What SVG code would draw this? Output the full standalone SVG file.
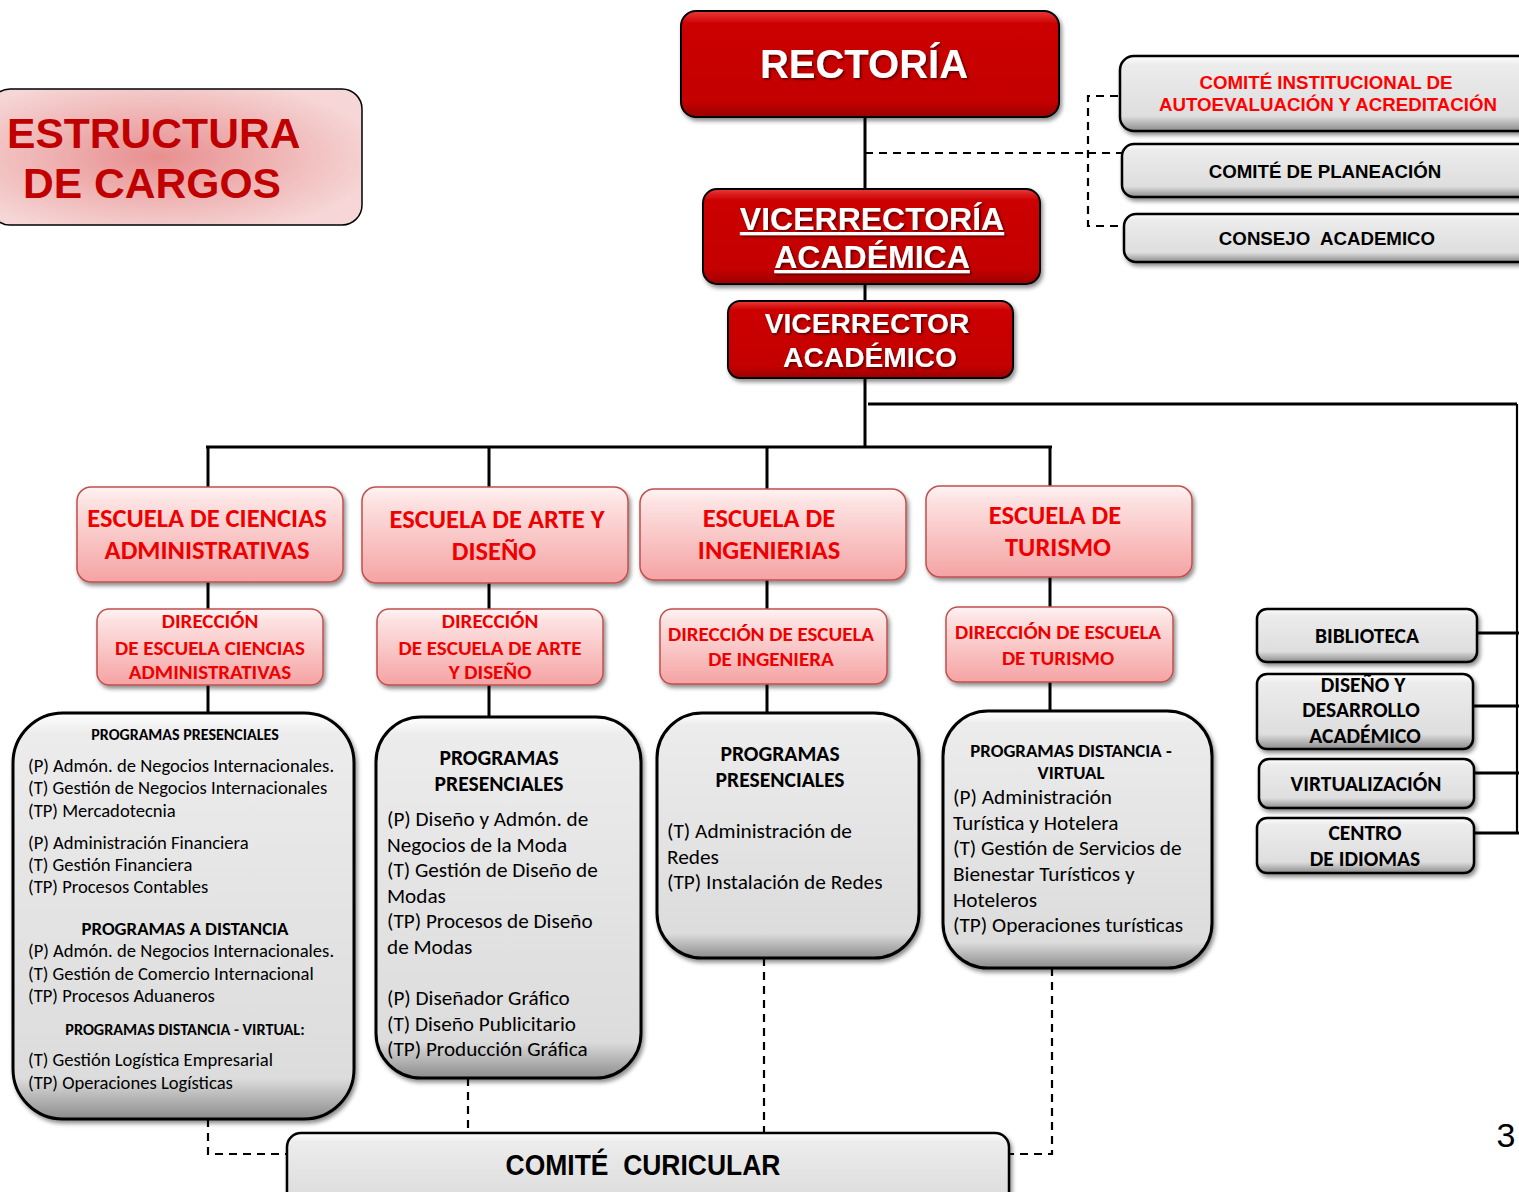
<svg xmlns="http://www.w3.org/2000/svg" width="1519" height="1192" viewBox="0 0 1519 1192">
<defs>
<linearGradient id="gRed" x1="0" y1="0" x2="0" y2="1">
<stop offset="0" stop-color="#e83a3a"/><stop offset="0.12" stop-color="#cc0000"/><stop offset="0.85" stop-color="#c40000"/><stop offset="1" stop-color="#9a0000"/>
</linearGradient>
<linearGradient id="gPink" x1="0" y1="0" x2="0" y2="1">
<stop offset="0" stop-color="#fff4f4"/><stop offset="0.15" stop-color="#fde2e2"/><stop offset="1" stop-color="#f5a3a3"/>
</linearGradient>
<linearGradient id="gGray" x1="0" y1="0" x2="0" y2="1">
<stop offset="0" stop-color="#ffffff"/><stop offset="0.12" stop-color="#ececec"/><stop offset="0.8" stop-color="#dedede"/><stop offset="1" stop-color="#8c8c8c"/>
</linearGradient>
<linearGradient id="gGrayTall" x1="0" y1="0" x2="0" y2="1">
<stop offset="0" stop-color="#ffffff"/><stop offset="0.05" stop-color="#ececec"/><stop offset="0.9" stop-color="#dcdcdc"/><stop offset="1" stop-color="#8c8c8c"/>
</linearGradient>
<radialGradient id="gTitle" cx="0.45" cy="0.5" r="0.6">
<stop offset="0" stop-color="#e88f8f"/><stop offset="1" stop-color="#f6d6d6"/>
</radialGradient>
<filter id="sh" x="-10%" y="-10%" width="125%" height="130%">
<feDropShadow dx="2" dy="3" stdDeviation="2" flood-color="#000" flood-opacity="0.45"/>
</filter>
<filter id="tsh" x="-10%" y="-20%" width="120%" height="150%">
<feDropShadow dx="1.5" dy="1.5" stdDeviation="1" flood-color="#000" flood-opacity="0.6"/>
</filter>
</defs>
<style>
.red{fill:url(#gRed);stroke:#000;stroke-width:2}
.pink{fill:url(#gPink);stroke:#c0504d;stroke-width:1.5}
.gray{fill:url(#gGray);stroke:#000;stroke-width:2.5}
.grayT{fill:url(#gGrayTall);stroke:#000;stroke-width:3}
.title{fill:url(#gTitle);stroke:#000;stroke-width:1.5}
.tw{font-family:"Liberation Sans",Arial,sans-serif;font-weight:bold;fill:#fff;text-anchor:middle}
.tr{font-family:Carlito,Lato,"Liberation Sans",sans-serif;font-weight:bold;fill:#ee0000;text-anchor:middle}
.ta{font-family:"Liberation Sans",Arial,sans-serif;font-weight:bold;text-anchor:middle}
.tb{font-family:Carlito,Lato,"Liberation Sans",sans-serif;font-weight:bold;fill:#000;text-anchor:middle}
.tn{font-family:Carlito,Lato,"Liberation Sans",sans-serif;fill:#000}
.solid{fill:none;stroke:#000;stroke-width:3}
.dash{fill:none;stroke:#000;stroke-width:2.2;stroke-dasharray:8 6}
</style>
<rect width="1519" height="1192" fill="#fff"/>

<g id="connectors">
<path class="solid" d="M865 117V447"/>
<path class="solid" d="M206 447H1052M208 447V487M489 447V487M767 447V489M1050 447V486"/>
<path class="solid" d="M208 582V609M489 583V609M767 580V609M1050 577V607"/>
<path class="solid" d="M208 685V713M489 685V717M767 684V713M1050 682V711"/>
<path class="solid" d="M868 404H1517"/>
<path class="solid" style="stroke-width:2.2" d="M1517 404V834"/>
<path class="solid" d="M1477 633H1519M1473 706H1519M1474 773H1519M1474 833H1519"/>
<path class="dash" d="M865 153H1088M1118 96H1088V226H1124M1088 153H1122"/>
<path class="dash" d="M208 1119V1154H287M468 1078V1133M764 958V1133M1052 968V1154H1010"/>
</g>

<g id="title">
<rect class="title" x="-10" y="89" width="372" height="136" rx="20"/>
<text x="7" y="148" style="font-family:'Liberation Sans',Arial,sans-serif;font-weight:bold;font-size:42.6px;fill:#c00000">ESTRUCTURA</text>
<text x="23" y="198" style="font-family:'Liberation Sans',Arial,sans-serif;font-weight:bold;font-size:42.6px;fill:#c00000">DE CARGOS</text>
</g>

<g id="rectoria">
<rect class="red" x="681" y="11" width="378" height="106" rx="15" filter="url(#sh)"/>
<text class="tw" x="864" y="78" font-size="40" filter="url(#tsh)">RECTORÍA</text>
</g>

<g id="vicerrectoria">
<rect class="red" x="703" y="189" width="337" height="95" rx="14" filter="url(#sh)"/>
<g filter="url(#tsh)">
<text class="tw" x="872" y="230" font-size="32" text-decoration="underline">VICERRECTORÍA</text>
<text class="tw" x="872" y="268" font-size="32" text-decoration="underline"> ACADÉMICA</text>
</g>
</g>

<g id="vicerrector">
<rect class="red" x="728" y="301" width="285" height="77" rx="12" filter="url(#sh)"/>
<g filter="url(#tsh)">
<text class="tw" x="867" y="333" font-size="28.2">VICERRECTOR</text>
<text class="tw" x="870" y="367" font-size="28.2">ACADÉMICO</text>
</g>
</g>

<g id="comite-autoevaluacion">
<rect class="gray" x="1120" y="56" width="420" height="75" rx="14" filter="url(#sh)"/>
<text class="ta" x="1326" y="89" font-size="18.7" fill="#ff0000">COMITÉ INSTITUCIONAL DE</text>
<text class="ta" x="1328" y="111" font-size="18.7" fill="#ff0000">AUTOEVALUACIÓN Y ACREDITACIÓN</text>
</g>
<g id="comite-planeacion">
<rect class="gray" x="1122" y="144" width="420" height="53" rx="12" filter="url(#sh)"/>
<text class="ta" x="1325" y="178" font-size="18.7" fill="#000">COMITÉ DE PLANEACIÓN</text>
</g>
<g id="consejo-academico">
<rect class="gray" x="1124" y="214" width="420" height="48" rx="12" filter="url(#sh)"/>
<text class="ta" x="1327" y="245" font-size="18.7" fill="#000" xml:space="preserve">CONSEJO  ACADEMICO</text>
</g>

<g id="escuela-ciencias">
<rect class="pink" x="77" y="487" width="266" height="95" rx="14" filter="url(#sh)"/>
<text class="tr" x="207" y="527" font-size="26.5">ESCUELA DE CIENCIAS</text>
<text class="tr" x="207" y="559" font-size="26.5">ADMINISTRATIVAS</text>
</g>
<g id="escuela-arte">
<rect class="pink" x="362" y="487" width="266" height="96" rx="14" filter="url(#sh)"/>
<text class="tr" x="497" y="528" font-size="26.5">ESCUELA DE ARTE Y</text>
<text class="tr" x="494" y="560" font-size="26.5">DISEÑO</text>
</g>
<g id="escuela-ingenierias">
<rect class="pink" x="640" y="489" width="266" height="91" rx="14" filter="url(#sh)"/>
<text class="tr" x="769" y="527" font-size="26.5">ESCUELA DE</text>
<text class="tr" x="769" y="559" font-size="26.5">INGENIERIAS</text>
</g>
<g id="escuela-turismo">
<rect class="pink" x="926" y="486" width="266" height="91" rx="14" filter="url(#sh)"/>
<text class="tr" x="1055" y="524" font-size="26.5">ESCUELA DE</text>
<text class="tr" x="1058" y="556" font-size="26.5">TURISMO</text>
</g>

<g id="direccion-ciencias">
<rect class="pink" x="97" y="609" width="226" height="76" rx="12" filter="url(#sh)"/>
<text class="tr" x="210" y="628" font-size="21">DIRECCIÓN</text>
<text class="tr" x="210" y="655" font-size="21">DE ESCUELA CIENCIAS</text>
<text class="tr" x="210" y="679" font-size="21">ADMINISTRATIVAS</text>
</g>
<g id="direccion-arte">
<rect class="pink" x="377" y="609" width="226" height="76" rx="12" filter="url(#sh)"/>
<text class="tr" x="490" y="628" font-size="21">DIRECCIÓN</text>
<text class="tr" x="490" y="655" font-size="21">DE ESCUELA DE ARTE</text>
<text class="tr" x="490" y="679" font-size="21">Y DISEÑO</text>
</g>
<g id="direccion-ingenieria">
<rect class="pink" x="660" y="609" width="227" height="75" rx="12" filter="url(#sh)"/>
<text class="tr" x="771" y="641" font-size="21">DIRECCIÓN DE ESCUELA</text>
<text class="tr" x="771" y="666" font-size="21">DE INGENIERA</text>
</g>
<g id="direccion-turismo">
<rect class="pink" x="946" y="607" width="227" height="75" rx="12" filter="url(#sh)"/>
<text class="tr" x="1058" y="639" font-size="21">DIRECCIÓN DE ESCUELA</text>
<text class="tr" x="1058" y="665" font-size="21">DE TURISMO</text>
</g>

<g id="programas-ciencias">
<rect class="grayT" x="13" y="713" width="341" height="406" rx="50" filter="url(#sh)"/>
<text class="tb" x="185" y="740" font-size="16">PROGRAMAS PRESENCIALES</text>
<g class="tn" font-size="18.6">
<text x="28" y="772">(P) Admón. de Negocios Internacionales.</text>
<text x="28" y="794">(T) Gestión de Negocios Internacionales</text>
<text x="28" y="817">(TP) Mercadotecnia</text>
<text x="28" y="849">(P) Administración Financiera</text>
<text x="28" y="871">(T) Gestión Financiera</text>
<text x="28" y="893">(TP) Procesos Contables</text>
<text x="28" y="957">(P) Admón. de Negocios Internacionales.</text>
<text x="28" y="980">(T) Gestión de Comercio Internacional</text>
<text x="28" y="1002">(TP) Procesos Aduaneros</text>
<text x="28" y="1066">(T) Gestión Logística Empresarial</text>
<text x="28" y="1089">(TP) Operaciones Logísticas</text>
</g>
<text class="tb" x="185" y="935" font-size="18.8">PROGRAMAS A DISTANCIA</text>
<text class="tb" x="185" y="1035" font-size="16.2">PROGRAMAS DISTANCIA - VIRTUAL:</text>
</g>

<g id="programas-arte">
<rect class="grayT" x="376" y="717" width="265" height="361" rx="45" filter="url(#sh)"/>
<text class="tb" x="499" y="765" font-size="21.6">PROGRAMAS</text>
<text class="tb" x="499" y="791" font-size="21.6">PRESENCIALES</text>
<g class="tn" font-size="21.2">
<text x="387" y="826">(P) Diseño y Admón. de</text>
<text x="387" y="852">Negocios de la Moda</text>
<text x="387" y="877">(T) Gestión de Diseño de</text>
<text x="387" y="903">Modas</text>
<text x="387" y="928">(TP) Procesos de Diseño</text>
<text x="387" y="954">de Modas</text>
<text x="387" y="1005">(P) Diseñador Gráfico</text>
<text x="387" y="1031">(T) Diseño Publicitario</text>
<text x="387" y="1056">(TP) Producción Gráfica</text>
</g>
</g>

<g id="programas-ingenierias">
<rect class="grayT" x="657" y="713" width="262" height="245" rx="45" filter="url(#sh)"/>
<text class="tb" x="780" y="761" font-size="21.6">PROGRAMAS</text>
<text class="tb" x="780" y="787" font-size="21.6">PRESENCIALES</text>
<g class="tn" font-size="21.3">
<text x="667" y="838">(T) Administración de</text>
<text x="667" y="864">Redes</text>
<text x="667" y="889">(TP) Instalación de Redes</text>
</g>
</g>

<g id="programas-turismo">
<rect class="grayT" x="943" y="711" width="269" height="257" rx="45" filter="url(#sh)"/>
<text class="tb" x="1071" y="757" font-size="18.8">PROGRAMAS DISTANCIA -</text>
<text class="tb" x="1071" y="779" font-size="18.8">VIRTUAL</text>
<g class="tn" font-size="21.3">
<text x="953" y="804">(P) Administración</text>
<text x="953" y="830">Turística y Hotelera</text>
<text x="953" y="855">(T) Gestión de Servicios de</text>
<text x="953" y="881">Bienestar Turísticos y</text>
<text x="953" y="907">Hoteleros</text>
<text x="953" y="932">(TP) Operaciones turísticas</text>
</g>
</g>

<g id="biblioteca">
<rect class="gray" x="1257" y="609" width="220" height="53" rx="10" filter="url(#sh)"/>
<text class="tb" x="1367" y="643" font-size="21.5">BIBLIOTECA</text>
</g>
<g id="diseno-desarrollo">
<rect class="gray" x="1257" y="674" width="216" height="75" rx="10" filter="url(#sh)"/>
<text class="tb" x="1363" y="692" font-size="21.5">DISEÑO Y</text>
<text class="tb" x="1361" y="717" font-size="21.5">DESARROLLO</text>
<text class="tb" x="1365" y="743" font-size="21.5">ACADÉMICO</text>
</g>
<g id="virtualizacion">
<rect class="gray" x="1259" y="759" width="215" height="49" rx="10" filter="url(#sh)"/>
<text class="tb" x="1366" y="791" font-size="21.5">VIRTUALIZACIÓN</text>
</g>
<g id="centro-idiomas">
<rect class="gray" x="1257" y="818" width="217" height="55" rx="10" filter="url(#sh)"/>
<text class="tb" x="1365" y="840" font-size="21.5">CENTRO</text>
<text class="tb" x="1365" y="866" font-size="21.5">DE IDIOMAS</text>
</g>

<g id="comite-curicular">
<rect class="gray" x="287" y="1133" width="722" height="75" rx="14" filter="url(#sh)"/>
<text x="643" y="1175" xml:space="preserve" style="font-family:'Liberation Sans',Arial,sans-serif;font-weight:bold;font-size:29px;text-anchor:middle" transform="translate(643 0) scale(0.913 1) translate(-643 0)">COMITÉ  CURICULAR</text>
</g>

<text x="1506" y="1147" style="font-family:'Liberation Sans',Arial,sans-serif;font-size:34px;text-anchor:middle">3</text>
</svg>
